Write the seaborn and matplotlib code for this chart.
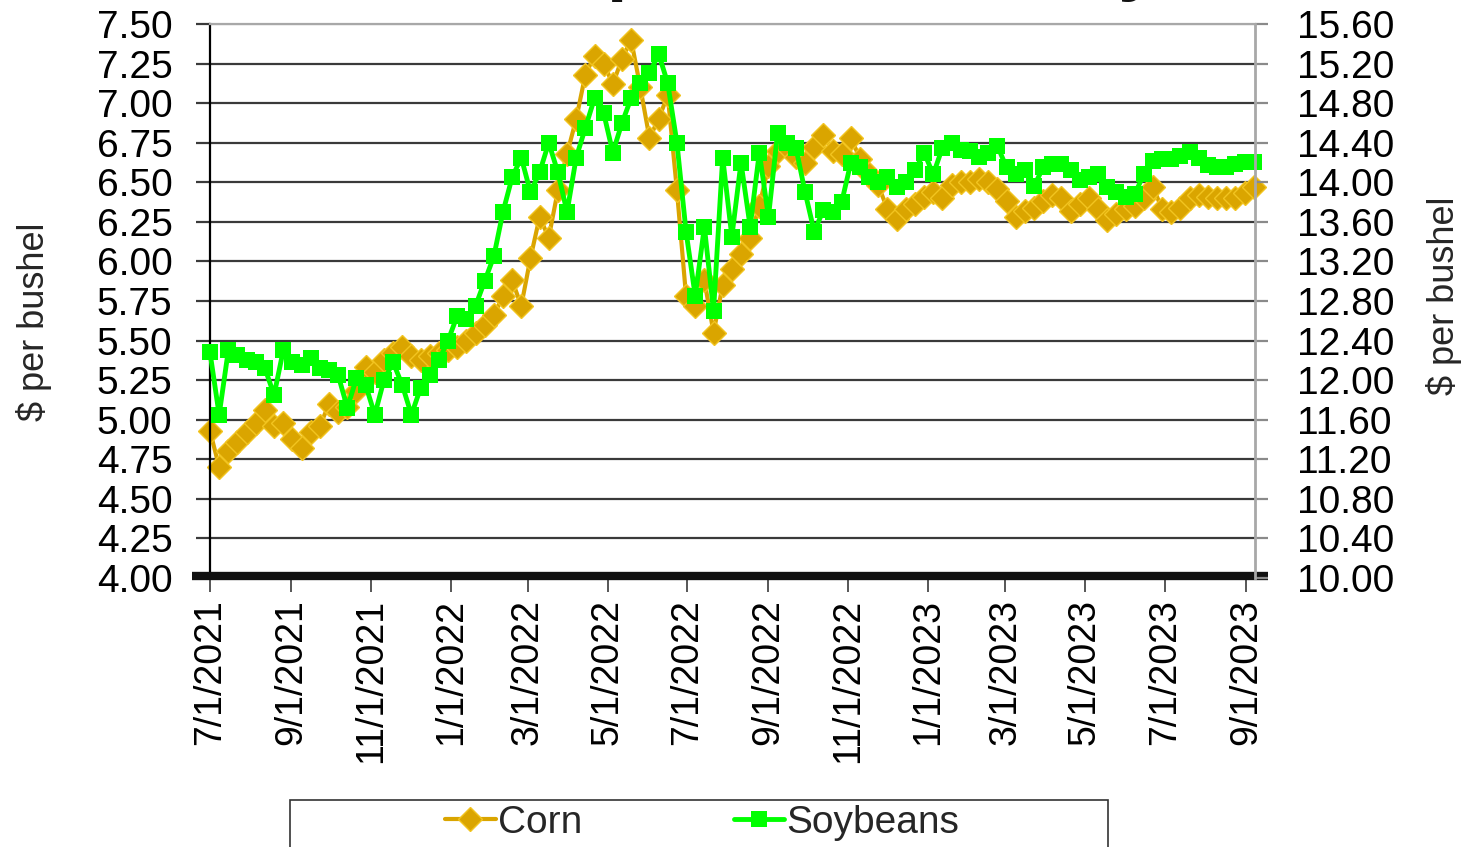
import matplotlib
matplotlib.use("Agg")
import matplotlib.pyplot as plt
import matplotlib.patches as mpatches
import numpy as np
import pandas as pd
import seaborn as sns

# weekly readings, starting 7/1/2021
start_date = "2021-07-01"
corn = [4.93, 4.70, 4.80, 4.86, 4.92, 4.98, 5.06, 4.96, 4.98, 4.88,
        4.82, 4.92, 4.96, 5.10, 5.05, 5.08, 5.18, 5.33, 5.30, 5.38,
        5.42, 5.46, 5.40, 5.38, 5.40, 5.42, 5.44, 5.46, 5.50, 5.55,
        5.60, 5.66, 5.78, 5.88, 5.72, 6.02, 6.28, 6.15, 6.45, 6.68,
        6.90, 7.18, 7.30, 7.25, 7.12, 7.28, 7.40, 7.10, 6.78, 6.90,
        7.05, 6.45, 5.78, 5.72, 5.88, 5.55, 5.85, 5.95, 6.05, 6.15,
        6.35, 6.60, 6.70, 6.72, 6.66, 6.62, 6.72, 6.80, 6.70, 6.68,
        6.78, 6.65, 6.55, 6.48, 6.33, 6.27, 6.33, 6.36, 6.41, 6.44,
        6.40, 6.48, 6.50, 6.50, 6.52, 6.50, 6.46, 6.38, 6.28, 6.32,
        6.34, 6.38, 6.42, 6.40, 6.32, 6.36, 6.40, 6.33, 6.26, 6.30,
        6.33, 6.35, 6.40, 6.47, 6.33, 6.31, 6.34, 6.40, 6.42, 6.41,
        6.40, 6.40, 6.40, 6.43, 6.47]
soybeans = [12.28, 11.65, 12.30, 12.25, 12.20, 12.18, 12.12, 11.85, 12.30, 12.18,
            12.15, 12.22, 12.12, 12.10, 12.05, 11.72, 12.02, 11.95, 11.65, 12.00,
            12.18, 11.95, 11.65, 11.92, 12.05, 12.20, 12.40, 12.65, 12.62, 12.75,
            13.00, 13.25, 13.70, 14.05, 14.25, 13.90, 14.10, 14.40, 14.10, 13.70,
            14.25, 14.55, 14.85, 14.70, 14.30, 14.60, 14.85, 15.00, 15.10, 15.30,
            15.00, 14.40, 13.50, 12.85, 13.55, 12.70, 14.25, 13.45, 14.20, 13.55,
            14.30, 13.65, 14.50, 14.40, 14.35, 13.90, 13.50, 13.72, 13.70, 13.80,
            14.20, 14.15, 14.05, 14.00, 14.05, 13.95, 14.00, 14.12, 14.30, 14.08,
            14.35, 14.40, 14.33, 14.32, 14.26, 14.30, 14.37, 14.15, 14.08, 14.12,
            13.96, 14.15, 14.18, 14.18, 14.12, 14.02, 14.05, 14.08, 13.95, 13.90,
            13.85, 13.88, 14.08, 14.22, 14.24, 14.24, 14.27, 14.31, 14.25, 14.17,
            14.15, 14.15, 14.18, 14.21, 14.21]
tick_dates = pd.date_range("2021-07-01", "2023-09-01", freq="2MS")
tick_labels = [f"{d.month}/{d.day}/{d.year}" for d in tick_dates]

dates = pd.date_range(start_date, periods=len(corn), freq="7D")
df = pd.DataFrame({"date": dates, "Corn": corn, "Soybeans": soybeans})

sns.set_theme(style="white")
plt.rcParams["font.family"] = ["Liberation Sans", "DejaVu Sans"]

W, H = 1468, 847
fig = plt.figure(figsize=(W / 100, H / 100), dpi=100)
ax = fig.add_axes([210 / W, 1 - 578 / H, 1045 / W, 554 / H])
ax2 = ax.twinx()

corn_col = "#DAA500"
soy_col = "#00FF00"

sns.lineplot(data=df, x="date", y="Corn", ax=ax, color=corn_col, linewidth=3,
             marker="D", markersize=12, markerfacecolor=corn_col,
             markeredgecolor="#F2C420", markeredgewidth=1, clip_on=False,
             label="Corn", legend=False)
sns.lineplot(data=df, x="date", y="Soybeans", ax=ax2, color=soy_col, linewidth=3.5,
             marker="s", markersize=11, markerfacecolor=soy_col,
             markeredgecolor=soy_col, markeredgewidth=0, clip_on=False,
             label="Soybeans", legend=False)

ax.set_xlim(pd.Timestamp("2021-07-01"), pd.Timestamp("2023-09-08"))
ax.set_ylim(4.0, 7.5)
ax2.set_ylim(10.0, 15.6)
ax.set_yticks(np.arange(4.0, 7.51, 0.25))
ax2.set_yticks(np.arange(10.0, 15.61, 0.4))
ax.set_yticklabels([f"{v:.2f}" for v in np.arange(4.0, 7.51, 0.25)])
ax2.set_yticklabels([f"{v:.2f}" for v in np.arange(10.0, 15.61, 0.4)])
ax.set_xticks(tick_dates)
ax.set_xticklabels(tick_labels, rotation=90)

ax.grid(axis="y", color="#3a3a3a", linewidth=1.6)
ax.grid(axis="x", visible=False)
ax.get_ygridlines()[-1].set_color("#a8a8a8")
ax.set_axisbelow(True)

ax.tick_params(axis="y", direction="out", length=10, width=1.6, color="#3a3a3a",
               pad=17, labelsize=28, left=True, labelcolor="black")
ax.tick_params(axis="x", direction="out", length=10, width=1.2, color="#3a3a3a",
               pad=5, labelsize=27, bottom=True, labelcolor="black")
ax2.tick_params(axis="y", direction="out", length=9.5, width=1.6, color="#8a8a8a",
                pad=21, labelsize=28, right=True, labelcolor="black")

for sp in ax.spines.values():
    sp.set_visible(False)
for sp in ax2.spines.values():
    sp.set_visible(False)
ax.spines["left"].set_visible(True)
ax.spines["left"].set_color("black")
ax.spines["left"].set_linewidth(1.6)
ax2.spines["right"].set_visible(True)
ax2.spines["right"].set_color("#a8a8a8")
ax2.spines["right"].set_linewidth(2)
ax2.spines["top"].set_visible(True)
ax2.spines["top"].set_color("#a8a8a8")
ax2.spines["top"].set_linewidth(1.6)

# thick base line
ax.plot([-0.0172, 1.0124], [0.004, 0.004], transform=ax.transAxes, color="#111111",
        linewidth=6, solid_capstyle="butt", clip_on=False, zorder=5)

ax.set_xlabel("")
ax.set_ylabel("$ per bushel", fontsize=26)
ax2.set_ylabel("$ per bushel", fontsize=26)
ax.yaxis.set_label_coords(-0.151, 0.462)
ax2.yaxis.set_label_coords(1.1636, 0.509)

# title, mostly above the visible canvas (only descenders show)
fig.text(304 / W, 1 + 13 / H, "Illinois Spot Prices Daily", ha="left", va="baseline",
         fontsize=53, fontweight="bold", color="#111111")

# legend box
frame = mpatches.Rectangle((290 / W, 1 - 860 / H), 818 / W, 60 / H,
                           transform=fig.transFigure, facecolor="white",
                           edgecolor="#333333", linewidth=1.2)
fig.patches.append(frame)
h1, l1 = ax.get_legend_handles_labels()
h2, l2 = ax2.get_legend_handles_labels()
fig.legend(h1 + h2, l1 + l2, loc="center", bbox_to_anchor=(702 / W, 1 - 823 / H),
           ncol=2, frameon=False, fontsize=28, handlelength=1.3,
           handletextpad=0.05, columnspacing=3.9, numpoints=1, borderpad=0)

fig.savefig("out.png", dpi=100)
